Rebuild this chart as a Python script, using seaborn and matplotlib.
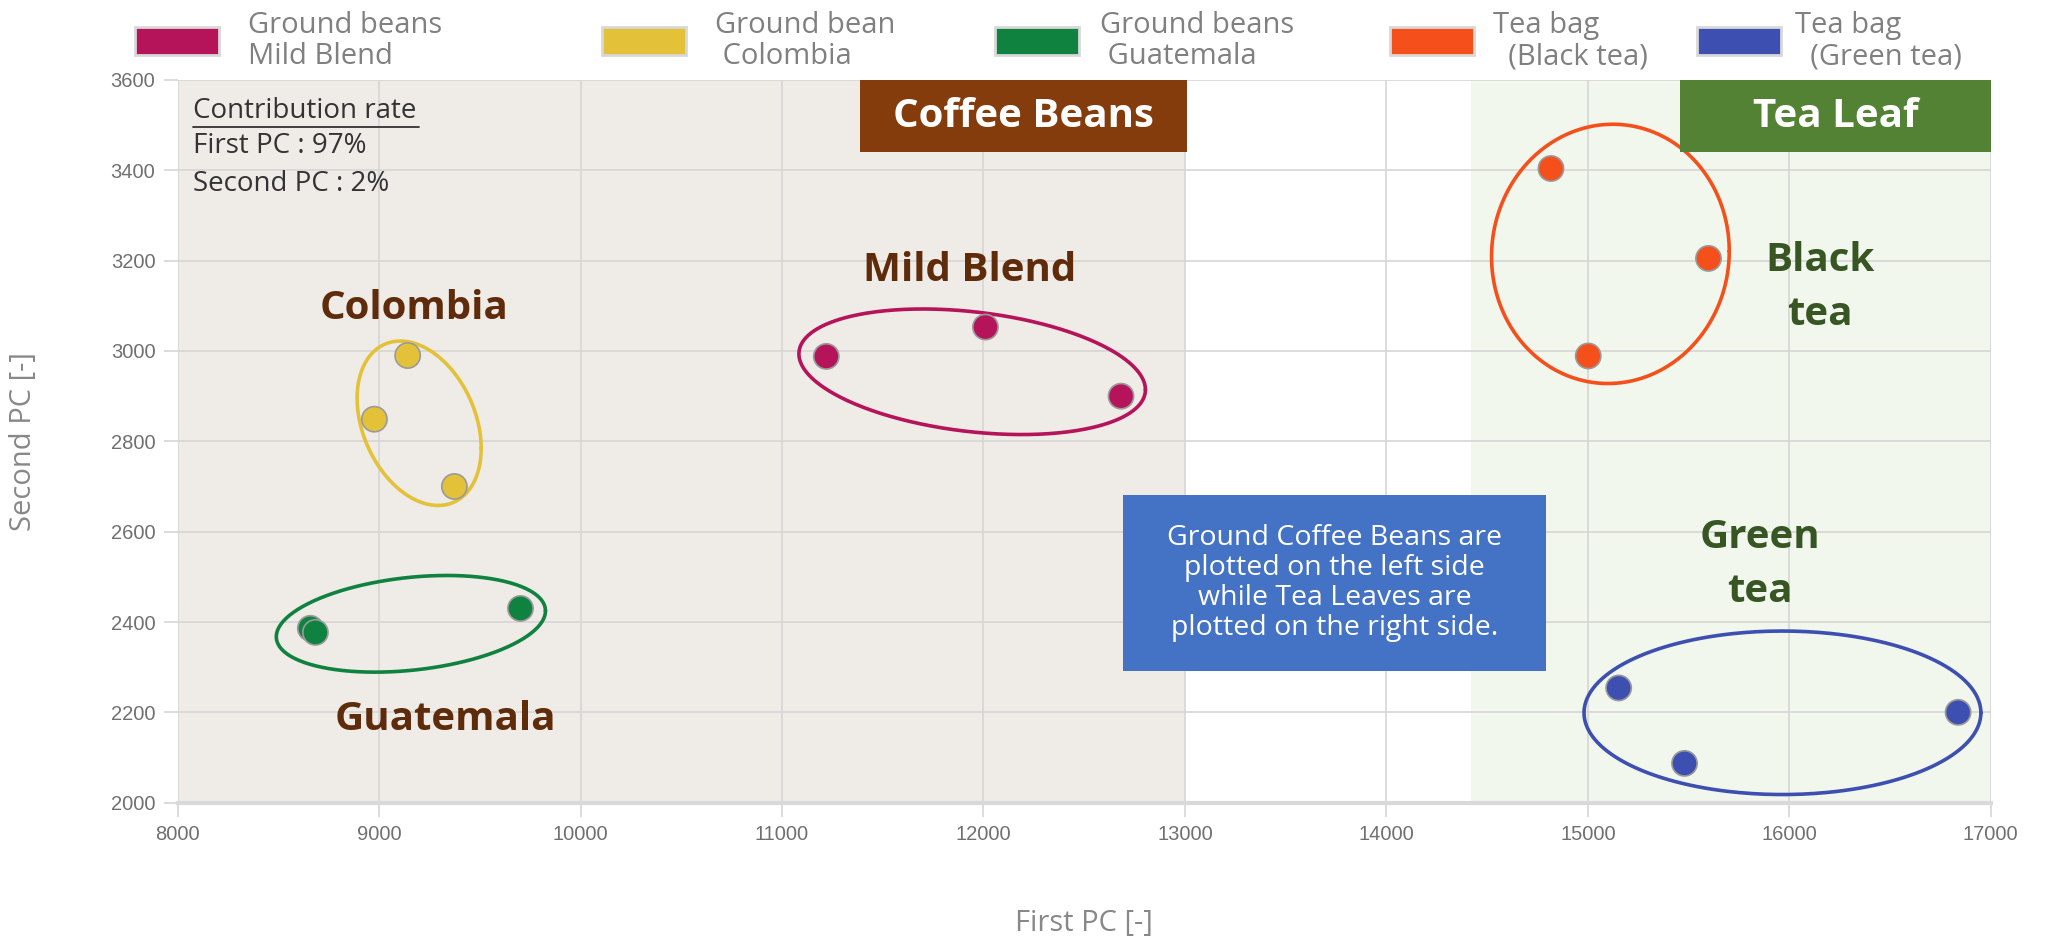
import numpy as np
import pandas as pd
import seaborn as sns
import matplotlib.pyplot as plt
from matplotlib.patches import Rectangle

# PCA scores
groups = ['Ground beans\nMild Blend', 'Ground bean\n Colombia', 'Ground beans\n Guatemala',
          'Tea bag\n  (Black tea)', 'Tea bag\n  (Green tea)']
colors = ['#b5135a', '#e3c23a', '#0f8240', '#f5501c', '#3d4fb0']

mild_x = [11220, 12010, 12683]
mild_y = [2988, 3053, 2900]
colombia_x = [9142, 8977, 9374]
colombia_y = [2990, 2849, 2700]
guatemala_x = [8659, 8684, 9702]
guatemala_y = [2386, 2377, 2430]
black_x = [14817, 15599, 15002]
black_y = [3404, 3205, 2989]
green_x = [15153, 15480, 16838]
green_y = [2254, 2087, 2200]

xs = [mild_x, colombia_x, guatemala_x, black_x, green_x]
ys = [mild_y, colombia_y, guatemala_y, black_y, green_y]
df = pd.DataFrame({
    'first': sum(xs, []),
    'second': sum(ys, []),
    'group': sum([[g] * len(x) for g, x in zip(groups, xs)], []),
})

# ellipse: centre, half-width, half-height, tilt phase
ellipses = [
    (11944, 2954, 860, 139, 1.86),
    (9199, 2840, 308, 182, 1.88),
    (9158, 2396, 668, 107, 1.30),
    (15112, 3215, 590, 287, 1.55),
    (15966, 2199, 985, 181, np.pi / 2),
]

sns.set_style('white')
plt.rcParams['font.family'] = ['Open Sans', 'DejaVu Sans']

fig, ax = plt.subplots(figsize=(20.46, 9.41), dpi=100)
fig.subplots_adjust(left=0.0868, right=0.973, bottom=0.147, top=0.915)

ax.axvspan(8000, 13000, color='#efebe7', zorder=0, lw=0)
ax.axvspan(14420, 17000, color='#f1f7ec', zorder=0, lw=0)

sns.scatterplot(data=df, x='first', y='second', hue='group', palette=colors,
                s=330, edgecolor='#9a9a9a', linewidth=1.2, legend=False, ax=ax, zorder=4)

t = np.linspace(0, 2 * np.pi, 300)
for (cx, cy, a, b, ph), c in zip(ellipses, colors):
    ax.plot(cx + a * np.cos(t), cy + b * np.cos(t + ph), color=c, lw=2.6, zorder=3)

ax.set_xlim(8000, 17000)
ax.set_ylim(2000, 3600)
ax.set_xticks(range(8000, 17001, 1000))
ax.set_yticks(range(2000, 3601, 200))
ax.grid(True, color='#d6d6d6', lw=1.2)
ax.set_axisbelow(True)
for s in ['top', 'right', 'left']:
    ax.spines[s].set_visible(False)
ax.spines['bottom'].set_color('#d9d9d9')
ax.spines['bottom'].set_linewidth(3)
ax.tick_params(axis='both', colors='#d6d6d6', labelcolor='#707070', labelsize=14.5,
               length=10, width=1.2, left=True, bottom=True, pad=6)
for lab in ax.get_xticklabels() + ax.get_yticklabels():
    lab.set_family(['Liberation Sans Narrow', 'Liberation Sans'])

ax.set_xlabel('First PC [-]', fontsize=21, color='#888888')
ax.set_ylabel('Second PC [-]', fontsize=21, color='#888888')
ax.xaxis.set_label_coords(0.5, -0.147)
ax.yaxis.set_label_coords(-0.077, 0.5)

# header boxes
ax.add_patch(Rectangle((11386, 3441), 1626, 159, color='#843c0c', zorder=5, lw=0))
ax.text(12199, 3520, 'Coffee Beans', color='white', fontsize=29, fontweight='bold',
        ha='center', va='center', zorder=6)
ax.add_patch(Rectangle((15459, 3441), 1541, 159, color='#548235', zorder=5, lw=0))
ax.text(16230, 3520, 'Tea Leaf', color='white', fontsize=29, fontweight='bold',
        ha='center', va='center', zorder=6)

# group names
brown = '#5f2c0b'
dgreen = '#375623'
ax.text(9172, 3095, 'Colombia', color=brown, fontsize=29, fontweight='bold', ha='center', va='center')
ax.text(11930, 3178, 'Mild Blend', color=brown, fontsize=29, fontweight='bold', ha='center', va='center')
ax.text(9327, 2185, 'Guatemala', color=brown, fontsize=29, fontweight='bold', ha='center', va='center')
ax.text(16152, 3140, 'Black\ntea', color=dgreen, fontsize=29, fontweight='bold', ha='center',
        va='center', linespacing=1.5)
ax.text(15854, 2528, 'Green\ntea', color=dgreen, fontsize=29, fontweight='bold', ha='center',
        va='center', linespacing=1.5)

# contribution rate
ax.text(8078, 3531, 'Contribution rate', color='#333333', fontsize=20, va='center')
ax.plot([8078, 9198], [3496, 3496], color='#333333', lw=1.3)
ax.text(8078, 3453, 'First PC : 97%', color='#333333', fontsize=20, va='center')
ax.text(8078, 3369, 'Second PC : 2%', color='#333333', fontsize=20, va='center')

# note box
ax.add_patch(Rectangle((12694, 2292), 2098, 389, color='#4472c4', zorder=5, lw=0))
ax.text(13743, 2487, 'Ground Coffee Beans are\nplotted on the left side\nwhile Tea Leaves are\n'
        'plotted on the right side.', color='white', fontsize=20.5, ha='center', va='center',
        linespacing=1.1, zorder=6)

# legend across the top, in figure pixels
sw_left = [135, 602, 995, 1390, 1697]
txt_left = [248, 715, 1100, 1493, 1795]
W, H = 2046, 941
for x0, tx, c, g in zip(sw_left, txt_left, colors, groups):
    fig.patches.append(Rectangle((x0 / W, 1 - 55 / H), 84 / W, 28 / H, transform=fig.transFigure,
                                 facecolor=c, edgecolor='#d8d8d8', lw=2, figure=fig))
    fig.text(tx / W, 1 - 41 / H, g, color='#808080', fontsize=21, ha='left', va='center',
             linespacing=1.1)

fig.savefig('out.png', dpi=100)
